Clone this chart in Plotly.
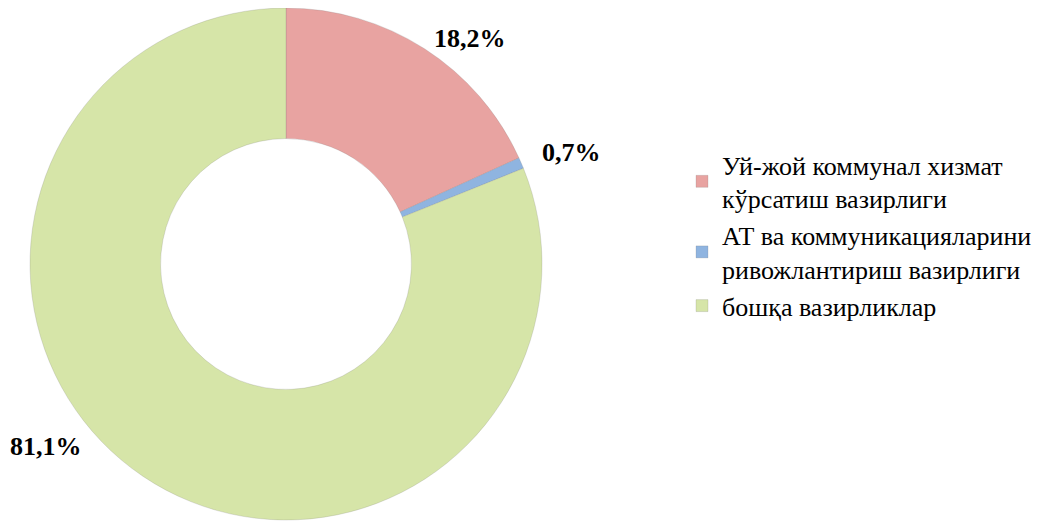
import plotly.graph_objects as go

labels = ["Уй-жой коммунал хизмат<br>кўрсатиш вазирлиги",
          "АТ ва коммуникацияларини<br>ривожлантириш вазирлиги",
          "бошқа вазирликлар"]
values = [18.2, 0.7, 81.1]
value_text = ["18,2%", "0,7%", "81,1%"]
colors = ["#E8A3A1", "#8FB4E0", "#D6E5A8"]

W, H = 1043, 521
OFF = 8  # page body margin
R = 256
cx, cy = 286 - OFF, R  # pie pushed to the top edge of the figure

fig = go.Figure(go.Pie(
    labels=labels, values=values, sort=False, direction="clockwise", rotation=0,
    hole=0.49, textinfo="none", hoverinfo="label+percent",
    marker=dict(colors=colors, line=dict(color="rgba(120,120,120,0.35)", width=0.6)),
    domain=dict(x=[(cx - R) / W, (cx + R) / W], y=[(H - cy - R) / H, 1]),
))

label_pos = [(470, 39), (571, 152), (46, 446)]
for t, (x, y) in zip(value_text, label_pos):
    fig.add_annotation(x=(x - OFF) / W, y=1 - (y - OFF) / H, xref="paper", yref="paper",
                       xanchor="center", yanchor="middle",
                       text="<b>" + t + "</b>", showarrow=False,
                       font=dict(family="Liberation Serif", size=26, color="#000"))

fig.update_layout(
    width=W, height=H, margin=dict(l=0, r=0, t=0, b=0),
    paper_bgcolor="white", plot_bgcolor="white",
    showlegend=True,
    legend=dict(x=674 / W, y=1 - 133 / H, xanchor="left", yanchor="top",
                font=dict(family="Liberation Serif", size=26, color="#000"),
                itemwidth=30),
)
fig.write_html("out.html")
